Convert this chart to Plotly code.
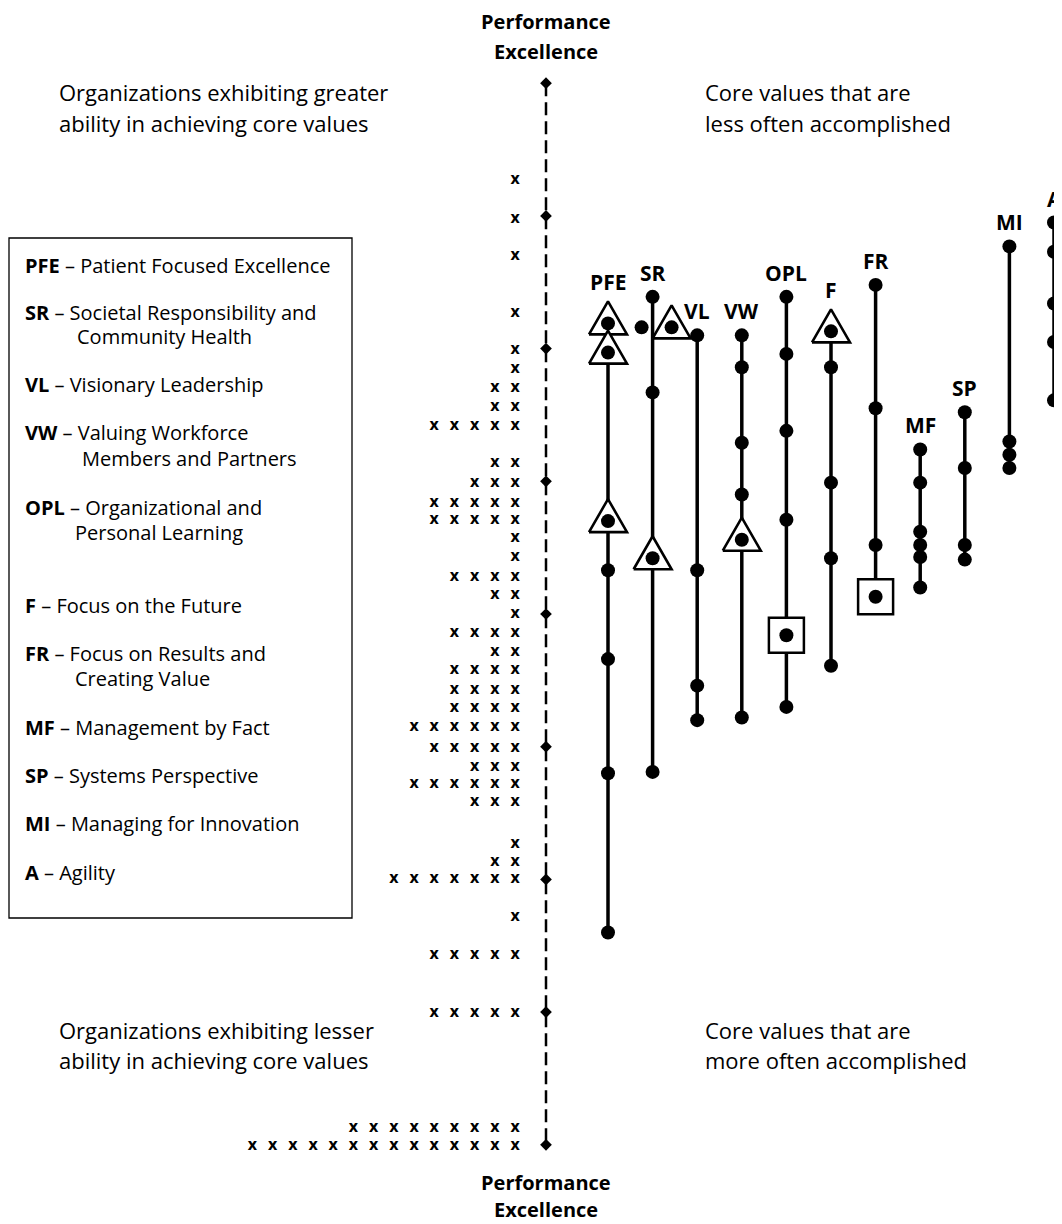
import plotly.graph_objects as go

# ---------------- DATA ----------------
# Organisations (persons): measure level (logits) and number of organisations at that level
person_levels = [3.27, 2.98, 2.70, 2.27, 1.99, 1.85, 1.70, 1.56, 1.42,
                 1.14, 0.99, 0.84, 0.71, 0.57, 0.43, 0.28, 0.14, 0.00,
                 -0.14, -0.29, -0.42, -0.57, -0.71, -0.85, -1.01,
                 -1.15, -1.28, -1.42, -1.73, -1.87, -2.00,
                 -2.28, -2.57, -3.01, -3.87, -4.01]
person_counts = [1, 1, 1, 1, 1, 1, 2, 2, 5,
                 2, 3, 5, 5, 1, 1, 4, 2, 1,
                 4, 2, 4, 4, 4, 6, 5,
                 3, 6, 3, 1, 2, 7,
                 1, 5, 5, 9, 14]

# Axis tick levels (diamonds)
axis_levels = [4, 3, 2, 1, 0, -1, -2, -3, -4]

# Core values (items): abbreviations
item_codes = ["PFE", "SR", "VL", "VW", "OPL", "F", "FR", "MF", "SP", "MI", "A"]

# Item measures per core value, with marker kind: d = dot, t = triangle, s = square
PFE_vals = [2.19, 1.97, 0.70, 0.33, -0.34, -1.20, -2.40]
PFE_kind = ["t", "t", "t", "d", "d", "d", "d"]
SR_vals = [2.39, 2.16, 2.16, 1.67, 0.42, -1.19]
SR_kind = ["d", "d", "t", "d", "t", "d"]
VL_vals = [2.10, 0.33, -0.54, -0.80]
VL_kind = ["d", "d", "d", "d"]
VW_vals = [2.10, 1.86, 1.29, 0.90, 0.56, -0.78]
VW_kind = ["d", "d", "d", "d", "t", "d"]
OPL_vals = [2.39, 1.96, 1.38, 0.71, -0.16, -0.70]
OPL_kind = ["d", "d", "d", "d", "s", "d"]
F_vals = [2.13, 1.86, 0.99, 0.42, -0.39]
F_kind = ["t", "d", "d", "d", "d"]
FR_vals = [2.48, 1.55, 0.52, 0.13]
FR_kind = ["d", "d", "d", "s"]
MF_vals = [1.24, 0.99, 0.62, 0.52, 0.43, 0.20]
MF_kind = ["d", "d", "d", "d", "d", "d"]
SP_vals = [1.52, 1.10, 0.52, 0.41]
SP_kind = ["d", "d", "d", "d"]
MI_vals = [2.77, 1.30, 1.20, 1.10]
MI_kind = ["d", "d", "d", "d"]
A_vals = [2.95, 2.73, 2.34, 2.05, 1.61]
A_kind = ["d", "d", "d", "d", "d"]

item_vals = [PFE_vals, SR_vals, VL_vals, VW_vals, OPL_vals, F_vals,
             FR_vals, MF_vals, SP_vals, MI_vals, A_vals]
item_kinds = [PFE_kind, SR_kind, VL_kind, VW_kind, OPL_kind, F_kind,
              FR_kind, MF_kind, SP_kind, MI_kind, A_kind]

# Legend texts
legend_first = ["Patient Focused Excellence",
                "Societal Responsibility and",
                "Visionary Leadership",
                "Valuing Workforce",
                "Organizational and",
                "Focus on the Future",
                "Focus on Results and",
                "Management by Fact",
                "Systems Perspective",
                "Managing for Innovation",
                "Agility"]
legend_second = ["", "Community Health", "", "Members and Partners",
                 "Personal Learning", "", "Creating Value", "", "", "", ""]

# ---------------- LAYOUT / STYLE ----------------
WIN_W, WIN_H = 1062, 1224
OFF = 8                      # default page body margin
W, H = WIN_W - OFF, WIN_H - OFF
PX = 132.7                   # pixels per logit
Y0 = 614                     # page pixel row of logit 0
FONT = "Open Sans"

AXIS_X = 546
PERSON_RIGHT = 515
PERSON_DX = 20.2
COL_X0 = 608
COL_DX = 44.6
# horizontal nudges (px) for overlapping SR points
nudges = {1: [0, -11, 19, 0, 0, 0]}

legend_y = [265, 312, 385, 433, 507, 605, 653, 727, 775, 823, 872]
legend_indent = [0, 75, 0, 80, 73, 0, 73, 0, 0, 0, 0]


def py(v_px):
    """page pixel row -> paper coordinate"""
    return 1 - (v_px - OFF) / H


fig = go.Figure()

# dashed axis line
fig.add_trace(go.Scatter(
    x=[AXIS_X, AXIS_X], y=[max(axis_levels), min(axis_levels)], mode="lines",
    line=dict(color="black", width=2.5, dash="13px,6px"), hoverinfo="skip"))
fig.add_trace(go.Scatter(
    x=[AXIS_X] * len(axis_levels), y=axis_levels, mode="markers",
    marker=dict(symbol="diamond", size=9, color="black"), hoverinfo="skip"))

# persons as 'x' glyphs
px_x, px_y = [], []
for lvl, n in zip(person_levels, person_counts):
    for k in range(n):
        px_x.append(PERSON_RIGHT - k * PERSON_DX)
        px_y.append(lvl)
fig.add_trace(go.Scatter(
    x=px_x, y=px_y, mode="text", text=["x"] * len(px_x),
    textposition="middle center",
    textfont=dict(family=FONT, size=16, color="black", weight="bold"),
    hoverinfo="skip"))

# items
dot_x, dot_y = [], []
sq_x, sq_y = [], []
annotations = []
for i, (code, vals, kinds) in enumerate(zip(item_codes, item_vals, item_kinds)):
    cx = COL_X0 + i * COL_DX
    nud = nudges.get(i, [0] * len(vals))
    # column line
    fig.add_trace(go.Scatter(
        x=[cx, cx], y=[max(vals), min(vals)], mode="lines",
        line=dict(color="black", width=3.5), hoverinfo="skip"))
    for v, kd, dx in zip(vals, kinds, nud):
        x = cx + dx
        if kd == "t":
            fig.add_trace(go.Scatter(
                x=[x - 19, x + 19, x, x - 19],
                y=[v - 11 / PX, v - 11 / PX, v + 22 / PX, v - 11 / PX],
                mode="lines", fill="toself", fillcolor="white",
                line=dict(color="black", width=2.6), hoverinfo="skip"))
        elif kd == "s":
            sq_x.append(x)
            sq_y.append(v)
        dot_x.append(x)
        dot_y.append(v)
    top = max(vals)
    top_kind = kinds[vals.index(top)]
    shift = 41 if top_kind == "t" else 24
    annotations.append(dict(
        x=cx, y=top, xref="x", yref="y", yshift=shift, text=f"<b>{code}</b>",
        showarrow=False, xanchor="center", yanchor="middle",
        font=dict(family=FONT, size=21, color="black")))

fig.add_trace(go.Scatter(
    x=sq_x, y=sq_y, mode="markers",
    marker=dict(symbol="square", size=35, color="white",
                line=dict(color="black", width=2.5)), hoverinfo="skip"))
fig.add_trace(go.Scatter(
    x=dot_x, y=dot_y, mode="markers",
    marker=dict(symbol="circle", size=14, color="black"), hoverinfo="skip"))

# header / footer
for y1, y2 in [(22, 51), (1182, 1209)]:
    annotations.append(dict(x=AXIS_X, y=py(y1), xref="x", yref="paper",
                            text="<b>Performance</b>", showarrow=False,
                            xanchor="center", yanchor="middle",
                            font=dict(family=FONT, size=20, color="black")))
    annotations.append(dict(x=AXIS_X, y=py(y2), xref="x", yref="paper",
                            text="<b>Excellence</b>", showarrow=False,
                            xanchor="center", yanchor="middle",
                            font=dict(family=FONT, size=20, color="black")))

# quadrant texts
quad = [
    (57, 92, "Organizations exhibiting greater"),
    (57, 123, "ability in achieving core values"),
    (703, 92, "Core values that are"),
    (703, 123, "less often accomplished"),
    (57, 1030, "Organizations exhibiting lesser"),
    (57, 1060, "ability in achieving core values"),
    (703, 1030, "Core values that are"),
    (703, 1060, "more often accomplished"),
]
for x, y, t in quad:
    annotations.append(dict(x=x, y=py(y), xref="x", yref="paper", text=t,
                            showarrow=False, xanchor="left", yanchor="middle",
                            font=dict(family=FONT, size=22, color="black")))

# legend box
for i, code in enumerate(item_codes):
    annotations.append(dict(
        x=23, y=py(legend_y[i]), xref="x", yref="paper",
        text=f"<b>{code}</b> \u2013 {legend_first[i]}", showarrow=False,
        xanchor="left", yanchor="middle",
        font=dict(family=FONT, size=20, color="black")))
    if legend_second[i]:
        annotations.append(dict(
            x=legend_indent[i], y=py(legend_y[i] + 25), xref="x", yref="paper",
            text=legend_second[i], showarrow=False,
            xanchor="left", yanchor="middle",
            font=dict(family=FONT, size=20, color="black")))

shapes = [dict(type="rect", xref="x", yref="paper", x0=9, x1=352,
               y0=py(918), y1=py(238), line=dict(color="black", width=1.3))]

fig.update_layout(
    width=W, height=H, margin=dict(l=0, r=0, t=0, b=0),
    paper_bgcolor="white", plot_bgcolor="white", showlegend=False,
    xaxis=dict(range=[OFF, WIN_W], visible=False, fixedrange=True),
    yaxis=dict(range=[(Y0 - WIN_H) / PX, (Y0 - OFF) / PX], visible=False,
               fixedrange=True),
    annotations=annotations, shapes=shapes,
)

fig.write_html("out.html")
